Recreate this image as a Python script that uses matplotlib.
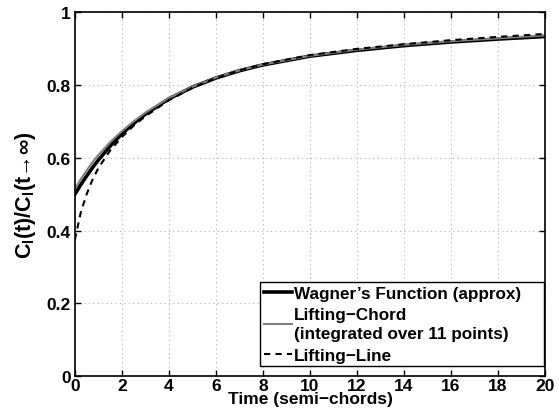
import matplotlib
matplotlib.use("Agg")
import matplotlib.pyplot as plt

# values
t = [0, 0.25, 0.5, 0.75, 1, 1.5, 2, 2.5, 3, 4, 5, 6, 7, 8, 10, 12, 14, 16, 18, 20]
wagner = [0.500, 0.526, 0.550, 0.573, 0.594, 0.632, 0.666, 0.694, 0.720, 0.762,
          0.794, 0.819, 0.839, 0.855, 0.879, 0.895, 0.908, 0.918, 0.926, 0.933]
chord = [0.515, 0.541, 0.565, 0.588, 0.608, 0.643, 0.673, 0.700, 0.724, 0.764,
         0.795, 0.820, 0.840, 0.856, 0.880, 0.897, 0.910, 0.920, 0.928, 0.936]
lline = [0.375, 0.450, 0.500, 0.540, 0.572, 0.620, 0.657, 0.688, 0.714, 0.758,
         0.792, 0.819, 0.840, 0.857, 0.882, 0.899, 0.912, 0.923, 0.932, 0.940]

plt.rcParams['font.family'] = ['Liberation Sans', 'DejaVu Sans']
plt.rcParams['font.weight'] = 'bold'
plt.rcParams['mathtext.fontset'] = 'custom'
plt.rcParams['mathtext.rm'] = 'Liberation Sans:bold'
plt.rcParams['mathtext.it'] = 'Liberation Sans:bold'
plt.rcParams['mathtext.bf'] = 'Liberation Sans:bold'

fig = plt.figure(figsize=(5.59, 4.10), dpi=100)
ax = fig.add_axes([0.134, 0.080, 0.841, 0.888])

ax.plot(t, wagner, color='black', lw=2.6, label="Wagner’s Function (approx)")
ax.plot(t, chord, color='#808080', lw=1.5,
        label="Lifting−Chord\n(integrated over 11 points)")
ax.plot(t, lline, color='black', lw=1.5, ls=(0, (3, 2.5)), label="Lifting−Line")

ax.set_xlim(0, 20)
ax.set_ylim(0, 1)
ax.set_xticks(range(0, 21, 2))
ax.set_yticks([0, 0.2, 0.4, 0.6, 0.8, 1])
ax.set_yticklabels(['0', '0.2', '0.4', '0.6', '0.8', '1'])
ax.tick_params(direction='in', top=True, right=True, labelsize=12.5, length=4, width=1)
ax.tick_params(axis='x', pad=1)
ax.tick_params(axis='y', pad=3)
for lab in ax.get_xticklabels() + ax.get_yticklabels():
    lab.set_fontweight('bold')
ax.grid(True, color='#b0b0b0', ls=(0, (1, 3)), lw=0.8)
for s in ax.spines.values():
    s.set_linewidth(1.2)

ax.set_xlabel('Time (semi−chords)', fontsize=12.5, fontweight='bold', labelpad=-1)
ax.set_ylabel(r'C$_l$(t)/C$_l$(t→∞)', fontsize=15.5, fontweight='bold', labelpad=6)

leg = ax.legend(loc='lower left', bbox_to_anchor=(0.394, 0.027, 0.604, 0.2),
                mode='expand', fontsize=12.3,
                frameon=True, fancybox=False, edgecolor='black', framealpha=1,
                borderaxespad=0, handlelength=1.65, handletextpad=0.15,
                borderpad=0.2, labelspacing=0.38)
leg.get_frame().set_linewidth(1.0)
for txt in leg.get_texts():
    txt.set_linespacing(1.35)

fig.savefig('out.png', dpi=100)
